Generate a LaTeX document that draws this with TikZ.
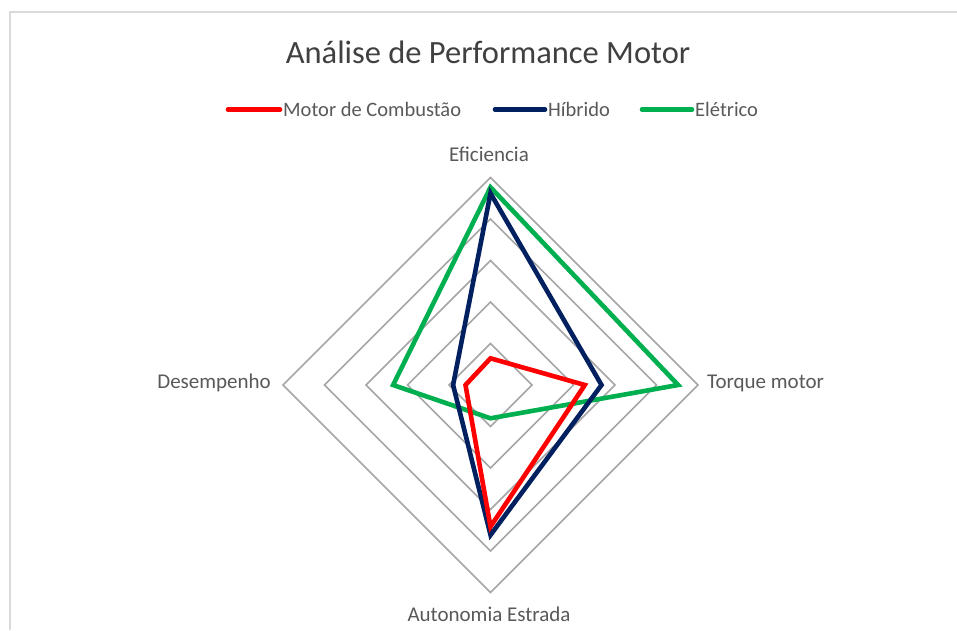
\documentclass[tikz,border=0pt]{standalone}
\usepackage{fontspec}
\setmainfont{Carlito}
\usetikzlibrary{calc}
\definecolor{framecol}{HTML}{D9D9D9}
\definecolor{gridcol}{HTML}{A6A6A6}
\definecolor{titlecol}{HTML}{404040}
\definecolor{labcol}{HTML}{595959}
\definecolor{comb}{HTML}{FF0000}
\definecolor{hib}{HTML}{002060}
\definecolor{ele}{HTML}{00B050}
\tikzset{
  gridline/.style={draw=gridcol, line width=1.5pt},
  series/.style={line width=4.6pt, line join=miter},
  legline/.style={line width=4.6pt, line cap=round},
  axlabel/.style={font=\fontsize{21}{24}\selectfont, text=labcol, inner sep=0pt},
  leglabel/.style={font=\fontsize{20.5}{24}\selectfont, text=labcol, inner sep=0pt, anchor=base west},
}
\begin{document}
\begin{tikzpicture}[x=1pt,y=-1pt]
\useasboundingbox (0,0) rectangle (957,630);
\fill[white] (0,0) rectangle (957,630);
% frame
\draw[framecol, line width=1.5pt] (10,630) -- (10,12) -- (957,12);
% title
\node[font=\fontsize{32.5}{38}\selectfont, text=titlecol, inner sep=0pt, anchor=base] (title) at (488,63.5) {Análise de Performance Motor};
% legend
\coordinate (l1a) at (228,109.5); \coordinate (l1b) at (280,109.5);
\coordinate (l2a) at (495,109.5); \coordinate (l2b) at (545,109.5);
\coordinate (l3a) at (642,109.5); \coordinate (l3b) at (692,109.5);
\draw[legline, comb] (l1a) -- (l1b);
\draw[legline, hib] (l2a) -- (l2b);
\draw[legline, ele] (l3a) -- (l3b);
\node[leglabel] (t1) at (283,116.5) {Motor de Combustão};
\node[leglabel] (t2) at (548,116.5) {Híbrido};
\node[leglabel] (t3) at (695,116.5) {Elétrico};
% grid
\coordinate (c) at (490.5,385);
\foreach \k in {1,...,5}{
  \pgfmathsetmacro{\r}{41.5*\k}
  \draw[gridline] ($(c)+(0,-\r)$) -- ($(c)+(\r,0)$) -- ($(c)+(0,\r)$) -- ($(c)+(-\r,0)$) -- cycle;
}
% axis labels
\node[axlabel, anchor=base] (ef) at (489,161) {Eficiencia};
\node[axlabel, anchor=base west] (tq) at (707,388.5) {Torque motor};
\node[axlabel, anchor=base east] (de) at (271,388.5) {Desempenho};
\node[axlabel, anchor=base] (au) at (489,621.5) {Autonomia Estrada};
% series: top, right, bottom, left
\draw[series, ele] ($(c)+(0,-197.7)$) -- ($(c)+(187.6,0)$) -- ($(c)+(0,33.3)$) -- ($(c)+(-97.4,0)$) -- cycle;
\draw[series, hib] ($(c)+(0,-191.7)$) -- ($(c)+(111,0)$) -- ($(c)+(0,150)$) -- ($(c)+(-37.4,0)$) -- cycle;
\draw[series, comb] ($(c)+(0,-26.7)$) -- ($(c)+(94.3,0)$) -- ($(c)+(0,141.7)$) -- ($(c)+(-25,0)$) -- cycle;
\end{tikzpicture}
\end{document}
